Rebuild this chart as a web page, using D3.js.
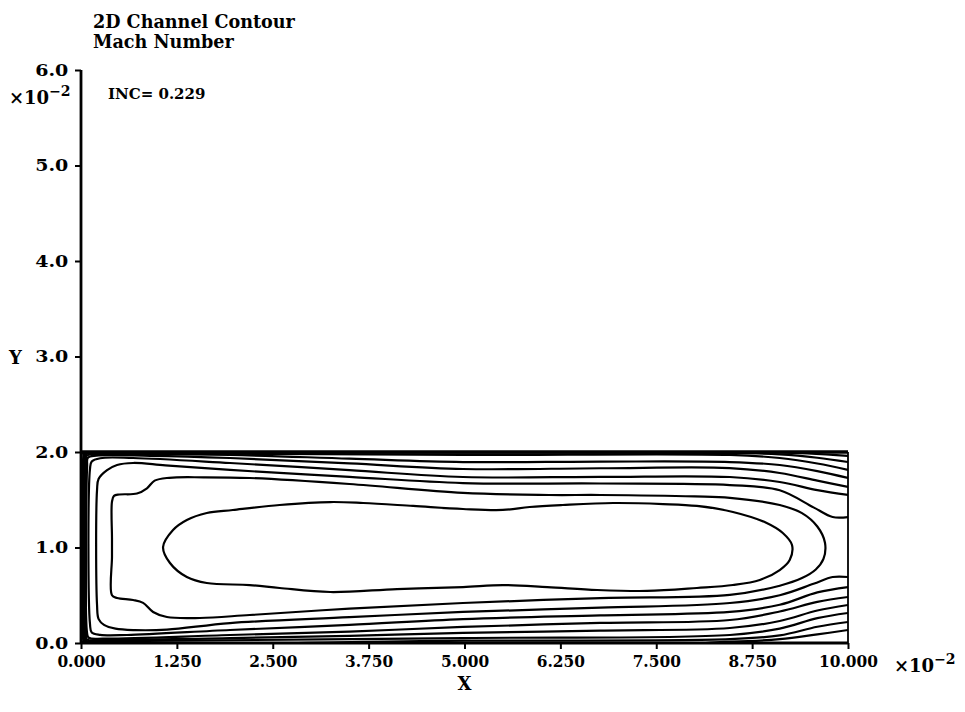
<!DOCTYPE html>
<html>
<head>
<meta charset="utf-8">
<script src="https://cdn.jsdelivr.net/npm/d3@7"></script>
<style>
  body { margin: 0; background: #fff; }
  svg { display: block; }
  text { font-family: "DejaVu Serif", serif; font-weight: bold; fill: #000; }
</style>
</head>
<body>
<svg id="chart" width="965" height="712"></svg>
<script>
// Axis ticks (values in units of 1e-2)
const xTicks = [0, 1.25, 2.5, 3.75, 5, 6.25, 7.5, 8.75, 10];
const xTickLabels = ["0.000", "1.250", "2.500", "3.750", "5.000", "6.250", "7.500", "8.750", "10.000"];
const yTicks = [0, 1, 2, 3, 4, 5, 6];
const yTickLabels = ["0.0", "1.0", "2.0", "3.0", "4.0", "5.0", "6.0"];

// Channel extent (x, y in 1e-2)
const channelX = [0, 10];
const channelY = [0, 2];

// Mach number iso-lines, highest level first. [x, y] pairs in 1e-2.
const machLevel1 = [ // closed core
  [1.07,1.005],[1.20,1.183],[1.38,1.288],[1.64,1.361],[1.98,1.393],[2.59,1.445],[3.25,1.476],
  [3.68,1.466],[4.33,1.435],[4.98,1.403],[5.50,1.393],[5.85,1.424],[6.28,1.445],[6.94,1.466],
  [7.59,1.455],[8.03,1.435],[8.50,1.372],[8.94,1.257],[9.15,1.152],[9.27,1.026],[9.24,0.869],
  [9.11,0.764],[8.85,0.660],[8.50,0.607],[8.03,0.576],[7.38,0.545],[6.73,0.555],[6.08,0.586],
  [5.50,0.607],[4.98,0.586],[4.12,0.565],[3.25,0.534],[2.59,0.576],[2.20,0.607],[1.64,0.628],
  [1.38,0.691],[1.16,0.838]
];
const machLevel2 = [ // closed, stepped at the inlet corner
  [0.404,1.10],[0.404,1.48],[0.43,1.54],[0.50,1.555],[0.73,1.565],[0.86,1.62],[0.96,1.70],
  [1.15,1.73],[1.60,1.735],[2.20,1.728],[3.50,1.665],[4.98,1.571],[6.10,1.55],[6.77,1.55],
  [8.00,1.535],[8.46,1.52],[9.11,1.445],[9.40,1.36],[9.60,1.22],[9.70,1.05],[9.68,0.88],
  [9.58,0.77],[9.40,0.68],[9.11,0.60],[8.46,0.503],[6.77,0.47],[4.98,0.419],[3.50,0.36],
  [2.20,0.293],[1.55,0.262],[1.12,0.272],[0.94,0.325],[0.81,0.42],[0.68,0.45],[0.47,0.471],
  [0.404,0.50],[0.404,0.90]
];
const machLevel3 = [
  [10,1.319],[9.80,1.319],[9.55,1.42],[9.11,1.60],[8.46,1.654],[6.77,1.67],[4.98,1.675],
  [3.50,1.74],[1.943,1.812],[1.10,1.86],[0.68,1.885],[0.47,1.864],[0.34,1.81],[0.23,1.72],
  [0.209,1.60],[0.209,0.40],[0.23,0.25],[0.30,0.19],[0.45,0.15],[0.70,0.135],[1.12,0.14],
  [1.943,0.209],[3.50,0.27],[4.98,0.325],[6.77,0.37],[8.46,0.419],[9.11,0.50],[9.55,0.62],
  [9.80,0.691],[10,0.691]
];
const machLevel4 = [
  [10,1.55],[9.60,1.60],[9.11,1.686],[8.46,1.738],[6.77,1.74],[4.98,1.738],[3.50,1.81],
  [1.943,1.885],[0.68,1.937],[0.25,1.935],[0.14,1.90],[0.117,1.82],[0.117,0.20],[0.14,0.11],
  [0.25,0.085],[0.60,0.084],[1.943,0.136],[3.50,0.19],[4.98,0.251],[6.77,0.29],[8.46,0.325],
  [9.11,0.40],[9.60,0.53],[10,0.586]
];
const machLevel5 = [
  [10,1.634],[9.60,1.70],[9.11,1.78],[8.46,1.832],[6.77,1.83],[4.98,1.822],[3.50,1.88],
  [1.943,1.937],[0.90,1.96],[0.20,1.962],[0.09,1.94],[0.08,1.85],[0.08,0.10],[0.10,0.055],
  [0.30,0.045],[1.943,0.084],[3.50,0.12],[4.98,0.168],[6.77,0.21],[8.46,0.241],[9.11,0.33],
  [9.60,0.43],[10,0.482]
];
const machLevel6 = [
  [10,1.728],[9.60,1.80],[9.11,1.864],[8.46,1.895],[6.77,1.90],[4.98,1.895],[3.50,1.93],
  [1.943,1.969],[0.50,1.975],[0.08,1.965],[0.06,1.92],[0.06,0.07],[0.08,0.035],[0.30,0.03],
  [1.943,0.052],[3.50,0.075],[4.98,0.105],[6.77,0.13],[8.46,0.157],[9.11,0.23],[9.60,0.34],
  [10,0.398]
];
const machLevel7 = [
  [10,1.812],[9.60,1.88],[9.11,1.937],[8.46,1.969],[4.98,1.969],[2.50,1.98],[0.50,1.985],
  [0.06,1.978],[0.045,1.95],[0.045,0.05],[0.06,0.022],[0.50,0.02],[4.98,0.052],[8.46,0.084],
  [9.11,0.15],[9.60,0.26],[10,0.314]
];
const machLevel8 = [
  [10,1.895],[9.60,1.94],[9.11,1.975],[8.46,1.99],[5.0,1.992],[0.50,1.993],[0.035,1.99],
  [0.03,1.96],[0.03,0.03],[0.04,0.014],[5.0,0.025],[8.46,0.04],[9.11,0.08],[9.60,0.17],[10,0.22]
];
const machLevel9 = [
  [10,1.96],[9.11,1.995],[8.46,1.998],[0.02,1.998],[0.02,0.01],[8.46,0.015],[9.11,0.04],
  [9.60,0.09],[10,0.136]
];
const closedLevels = [machLevel1, machLevel2];
const openLevels = [machLevel3, machLevel4, machLevel5, machLevel6, machLevel7, machLevel8, machLevel9];

const svg = d3.select("#chart");
const x = d3.scaleLinear().domain([0, 10]).range([81, 848]);
const y = d3.scaleLinear().domain([0, 6]).range([643, 70]);

// Titles
svg.append("text").attr("x", 93).attr("y", 28).attr("font-size", 17.6).text("2D Channel Contour");
svg.append("text").attr("x", 93).attr("y", 48).attr("font-size", 17.6).text("Mach Number");
svg.append("text").attr("x", 108).attr("y", 99).attr("font-size", 15).text("INC= 0.229");

// Clip for the iso-lines
svg.append("clipPath").attr("id", "chan").append("rect")
  .attr("x", x(channelX[0])).attr("y", y(channelY[1]))
  .attr("width", x(channelX[1]) - x(channelX[0]))
  .attr("height", y(channelY[0]) - y(channelY[1]));

const lineOpen = d3.line().x(d => x(d[0])).y(d => y(d[1])).curve(d3.curveCatmullRom.alpha(0.5));
const lineClosed = d3.line().x(d => x(d[0])).y(d => y(d[1])).curve(d3.curveCatmullRomClosed.alpha(0.5));

const g = svg.append("g").attr("clip-path", "url(#chan)");
g.selectAll("path.closed").data(closedLevels).join("path")
  .attr("class", "closed").attr("d", lineClosed)
  .attr("fill", "none").attr("stroke", "#000").attr("stroke-width", 2.2);
g.selectAll("path.open").data(openLevels).join("path")
  .attr("class", "open").attr("d", lineOpen)
  .attr("fill", "none").attr("stroke", "#000").attr("stroke-width", 2.2);

// Channel walls
svg.append("line").attr("x1", x(0)).attr("x2", x(10)).attr("y1", y(2)).attr("y2", y(2))
  .attr("stroke", "#000").attr("stroke-width", 3.5);
svg.append("line").attr("x1", x(10)).attr("x2", x(10)).attr("y1", y(2)).attr("y2", y(0))
  .attr("stroke", "#000").attr("stroke-width", 1.8);
svg.append("line").attr("x1", x(0) + 4).attr("x2", x(0) + 4).attr("y1", y(2)).attr("y2", y(0))
  .attr("stroke", "#000").attr("stroke-width", 4);

// Axes
const yAxis = d3.axisLeft(y).tickValues(yTicks).tickFormat((d, i) => yTickLabels[i]).tickSize(6).tickPadding(6);
const yg = svg.append("g").attr("transform", `translate(${x(0)},0)`).call(yAxis);
const xAxis = d3.axisBottom(x).tickValues(xTicks).tickFormat((d, i) => xTickLabels[i]).tickSize(6).tickPadding(6);
const xg = svg.append("g").attr("transform", `translate(0,${y(0)})`).call(xAxis);
[yg, xg].forEach(a => {
  a.select(".domain").attr("stroke", "#000").attr("stroke-width", 2.8);
  a.selectAll(".tick line").attr("stroke", "#000").attr("stroke-width", 2);
  a.selectAll(".tick text").attr("font-family", "DejaVu Serif, serif").attr("font-weight", "bold").attr("fill", "#000");
});
yg.selectAll(".tick text").attr("font-size", 17).attr("transform", "translate(-6,0) scale(1.12,1) translate(6,0)");
xg.selectAll(".tick text").attr("font-size", 17.5).attr("transform", "scale(0.88,1)");
yg.select(".domain").attr("d", `M0,${y(6)}V${y(0)}`);
xg.select(".domain").attr("d", `M${x(0)},0H${x(10)}`);

// Axis titles and exponents
svg.append("text").attr("x", 9).attr("y", y(3) + 7).attr("font-size", 18).text("Y");
svg.append("text").attr("x", x(5)).attr("y", 690).attr("text-anchor", "middle").attr("font-size", 18).text("X");

function exponent(px, py) {
  const t = svg.append("text").attr("x", px).attr("y", py).attr("font-size", 18).attr("font-weight", "normal");
  t.append("tspan").text("\u00d710");
  t.append("tspan").attr("dy", -8).attr("font-size", 14).text("\u22122");
}
exponent(9, 104);
exponent(894, 672);
</script>
</body>
</html>
